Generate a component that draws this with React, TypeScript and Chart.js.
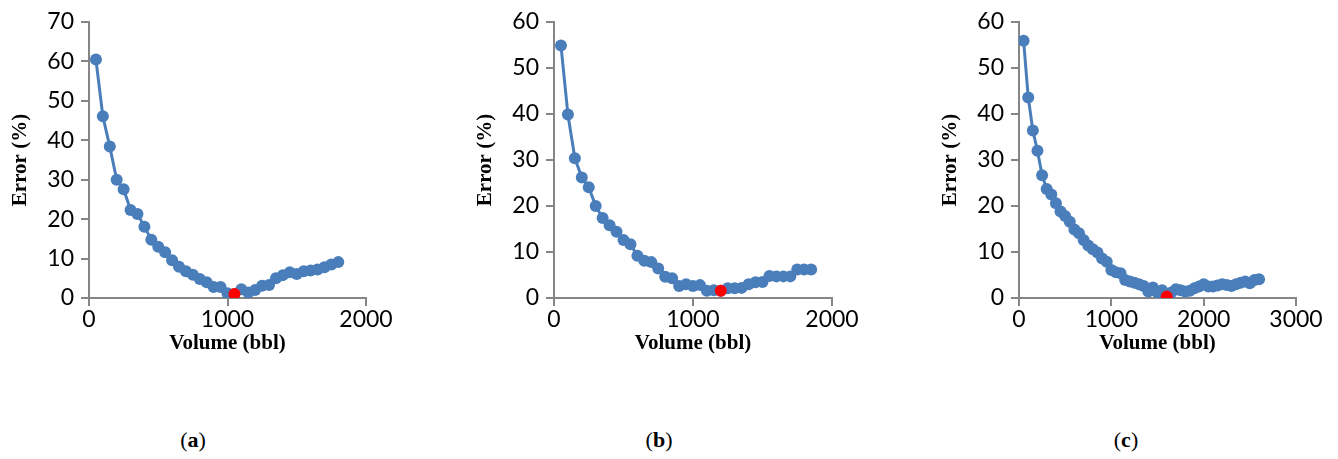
import React, { useEffect, useRef } from "react";
import { Chart, registerables } from "chart.js";

Chart.register(...registerables);

// ---------- Data ----------
const volumeA = [50, 100, 150, 200, 250, 300, 350, 400, 450, 500, 550, 600, 650, 700, 750, 800, 850, 900, 950, 1000, 1050, 1100, 1150, 1200, 1250, 1300, 1350, 1400, 1450, 1500, 1550, 1600, 1650, 1700, 1750, 1800];
const errorA = [60.5, 46.1, 38.4, 30.0, 27.6, 22.3, 21.3, 18.1, 14.8, 13.0, 11.6, 9.6, 7.9, 6.8, 5.9, 4.8, 4.0, 2.8, 2.8, 1.2, 1.0, 2.2, 1.4, 2.0, 3.1, 3.3, 5.0, 5.8, 6.5, 6.1, 6.8, 7.0, 7.2, 7.8, 8.5, 9.1];
const bestA = 1050;

const volumeB = [50, 100, 150, 200, 250, 300, 350, 400, 450, 500, 550, 600, 650, 700, 750, 800, 850, 900, 950, 1000, 1050, 1100, 1150, 1200, 1250, 1300, 1350, 1400, 1450, 1500, 1550, 1600, 1650, 1700, 1750, 1800, 1850];
const errorB = [54.9, 39.9, 30.4, 26.2, 24.1, 20.0, 17.4, 15.8, 14.4, 12.6, 11.7, 9.2, 8.1, 7.8, 6.4, 4.6, 4.3, 2.6, 3.0, 2.6, 2.8, 1.6, 1.7, 1.6, 2.1, 2.1, 2.2, 3.0, 3.4, 3.5, 4.8, 4.7, 4.7, 4.7, 6.2, 6.2, 6.2];
const bestB = 1200;

const volumeC = [50, 100, 150, 200, 250, 300, 350, 400, 450, 500, 550, 600, 650, 700, 750, 800, 850, 900, 950, 1000, 1050, 1100, 1150, 1200, 1250, 1300, 1350, 1400, 1450, 1500, 1550, 1600, 1650, 1700, 1750, 1800, 1850, 1900, 1950, 2000, 2050, 2100, 2150, 2200, 2250, 2300, 2350, 2400, 2450, 2500, 2550, 2600];
const errorC = [55.9, 43.6, 36.4, 32.0, 26.7, 23.7, 22.5, 20.6, 18.8, 17.8, 16.6, 14.9, 14.1, 12.6, 11.4, 10.6, 9.9, 8.6, 7.9, 6.1, 5.6, 5.4, 3.9, 3.6, 3.3, 3.0, 2.6, 1.4, 2.3, 1.2, 1.7, 0.3, 1.2, 1.9, 1.7, 1.4, 1.6, 2.1, 2.5, 3.0, 2.5, 2.5, 2.7, 3.0, 2.8, 2.6, 3.0, 3.3, 3.6, 3.2, 3.9, 4.1];
const bestC = 1600;

const xTitle = "Volume (bbl)";
const yTitle = "Error (%)";
const captions = ["a", "b", "c"];

// ---------- Styles ----------
const BLUE = "#4a7ebb";
const RED = "#ff0000";
const AXIS = "#868686";
const TICK_FONT = "Lato";
const TITLE_FONT = "Liberation Serif";

type PanelProps = {
  volume: number[];
  error: number[];
  best: number;
  xMax: number;
  yMax: number;
  left: number;
  width: number;
  rightPad: number;
};

const CANVAS_H = 400;

function Panel({ volume, error, best, xMax, yMax, left, width, rightPad }: PanelProps) {
  const ref = useRef<HTMLCanvasElement | null>(null);
  useEffect(() => {
    if (!ref.current) return;
    const pts = volume.map((v, i) => ({ x: v, y: error[i] }));
    const bi = volume.indexOf(best);
    const chart = new Chart(ref.current, {
      type: "scatter",
      data: {
        datasets: [
          {
            data: [{ x: best, y: error[bi] }],
            backgroundColor: RED,
            borderColor: RED,
            pointRadius: 6,
            pointBorderWidth: 0,
            showLine: false,
            order: 0,
          },
          {
            data: pts,
            backgroundColor: BLUE,
            borderColor: BLUE,
            borderWidth: 3,
            pointRadius: 6,
            pointBorderWidth: 0,
            showLine: true,
            tension: 0,
            order: 1,
          },
        ],
      },
      options: {
        animation: false,
        responsive: false,
        maintainAspectRatio: false,
        events: [],
        layout: { padding: { top: 22, right: rightPad, bottom: 0, left: 0 } },
        plugins: { legend: { display: false }, tooltip: { enabled: false }, title: { display: false } },
        scales: {
          x: {
            type: "linear",
            min: 0,
            max: xMax,
            afterFit: (s: any) => {
              s.height = CANVAS_H - 298;
            },
            ticks: {
              stepSize: 1000,
              padding: 0,
              color: "#000",
              font: { family: TICK_FONT, size: 23 },
              maxRotation: 0,
              callback: (v: any) => String(v),
            },
            grid: { drawOnChartArea: false, drawTicks: true, tickLength: 8, color: AXIS, lineWidth: 2 },
            border: { display: true, color: AXIS, width: 2 },
            title: {
              display: true,
              text: xTitle,
              color: "#000",
              font: { family: TITLE_FONT, size: 21, weight: "bold" },
              padding: { top: 0, bottom: 44 },
            },
          },
          y: {
            type: "linear",
            min: 0,
            max: yMax,
            afterFit: (s: any) => {
              s.width = 89;
            },
            ticks: {
              stepSize: 10,
              padding: 7,
              color: "#000",
              font: { family: TICK_FONT, size: 23 },
              callback: (v: any) => String(v),
            },
            grid: { drawOnChartArea: false, drawTicks: true, tickLength: 8, color: AXIS, lineWidth: 2 },
            border: { display: true, color: AXIS, width: 2 },
            title: {
              display: true,
              text: yTitle,
              color: "#000",
              font: { family: TITLE_FONT, size: 21, weight: "bold" },
              padding: { top: 8, bottom: 0 },
            },
          },
        },
      },
    });
    return () => chart.destroy();
  }, []);
  return (
    <canvas
      ref={ref}
      width={width}
      height={CANVAS_H}
      style={{ position: "absolute", left, top: 0, width, height: CANVAS_H }}
    />
  );
}

const captionX = [193, 659, 1126];

export default function App() {
  return (
    <div
      style={{
        position: "fixed",
        left: 0,
        top: 0,
        width: 1338,
        height: 459,
        background: "#fff",
        overflow: "hidden",
      }}
    >
      <Panel volume={volumeA} error={errorA} best={bestA} xMax={2000} yMax={70} left={0} width={460} rightPad={94} />
      <Panel volume={volumeB} error={errorB} best={bestB} xMax={2000} yMax={60} left={465} width={460} rightPad={93} />
      <Panel volume={volumeC} error={errorC} best={bestC} xMax={3000} yMax={60} left={930} width={408} rightPad={42} />
      {captions.map((c, i) => (
        <div
          key={c}
          style={{
            position: "absolute",
            left: captionX[i] - 40,
            width: 80,
            top: 426,
            textAlign: "center",
            fontFamily: TITLE_FONT,
            fontSize: 22,
            lineHeight: "28px",
            color: "#000",
          }}
        >
          (<b>{c}</b>)
        </div>
      ))}
    </div>
  );
}
